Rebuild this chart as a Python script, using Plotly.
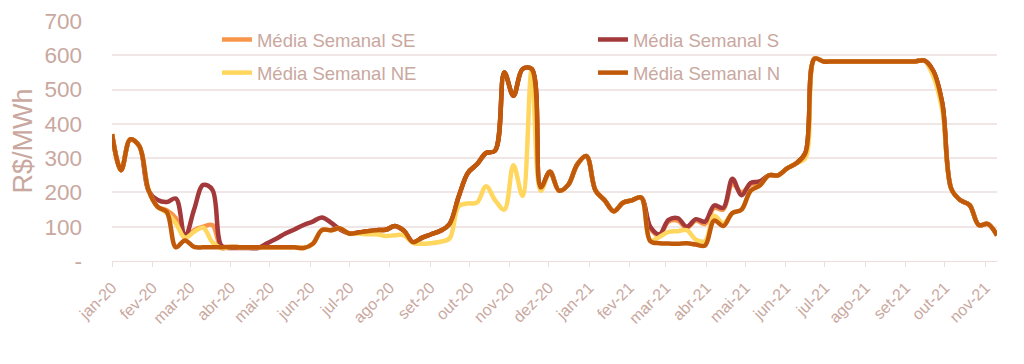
import pandas as pd
import plotly.graph_objects as go

# Weekly dates (categories on the x axis)
weeks = pd.date_range("2020-01-01", periods=98, freq="7D")

# Month tick labels
month_ticks = pd.date_range("2020-01-01", "2021-11-01", freq="MS")
month_labels = ["jan-20", "fev-20", "mar-20", "abr-20", "mai-20", "jun-20", "jul-20",
                "ago-20", "set-20", "out-20", "nov-20", "dez-20",
                "jan-21", "fev-21", "mar-21", "abr-21", "mai-21", "jun-21", "jul-21",
                "ago-21", "set-21", "out-21", "nov-21"]

y_ticks = [0, 100, 200, 300, 400, 500, 600, 700]
y_labels = ["-", "100", "200", "300", "400", "500", "600", "700"]

# Média Semanal N
n_vals = [370, 265, 355, 335, 207, 158, 143, 40, 60, 41,
          40, 40, 40, 41, 40, 40, 40, 40, 40, 40,
          40, 38, 50, 90, 90, 95, 80, 83, 87, 90,
          91, 102, 88, 55, 68, 78, 88, 108, 188, 257,
          282, 315, 322, 550, 482, 560, 560, 215, 260, 205,
          222, 282, 306, 205, 177, 145, 170, 177, 185, 58,
          52, 51, 50, 52, 48, 45, 118, 102, 140, 150,
          205, 220, 250, 250, 270, 285, 315, 590, 582, 582,
          582, 582, 582, 582, 582, 582, 582, 582, 582, 585,
          555, 460, 210, 177, 163, 105, 108, 75]

# Média Semanal S
s_vals = [370, 265, 355, 335, 205, 178, 172, 182, 69, 150,
          222, 208, 44, 38, 38, 38, 38, 52, 65, 80,
          92, 105, 115, 127, 112, 92, 81, 83, 87, 90,
          91, 102, 88, 55, 68, 78, 88, 108, 188, 257,
          282, 315, 322, 550, 482, 560, 560, 215, 260, 205,
          222, 282, 306, 205, 177, 145, 170, 177, 185, 100,
          78, 120, 125, 100, 122, 115, 162, 155, 240, 192,
          228, 232, 250, 250, 270, 285, 315, 590, 582, 582,
          582, 582, 582, 582, 582, 582, 582, 582, 582, 585,
          555, 460, 210, 177, 163, 105, 108, 75]

# Média Semanal SE
se_vals = [370, 265, 355, 335, 207, 158, 148, 125, 68, 90,
           100, 105, 38, 41, 40, 40, 40, 40, 40, 40,
           40, 38, 50, 90, 90, 95, 80, 83, 87, 90,
           91, 102, 88, 55, 68, 78, 88, 108, 188, 257,
           282, 315, 322, 550, 482, 560, 560, 215, 260, 205,
           222, 282, 306, 205, 177, 145, 170, 177, 185, 95,
           75, 115, 118, 97, 118, 108, 155, 150, 225, 200,
           222, 230, 250, 250, 270, 285, 315, 590, 582, 582,
           582, 582, 582, 582, 582, 582, 582, 582, 582, 585,
           555, 460, 210, 177, 163, 105, 108, 75]

# Média Semanal NE
ne_vals = [370, 265, 355, 335, 207, 158, 140, 110, 68, 85,
           97, 55, 38, 41, 40, 40, 40, 40, 40, 40,
           40, 38, 50, 90, 90, 95, 80, 80, 78, 78,
           73, 75, 75, 53, 50, 52, 56, 66, 160, 168,
           170, 218, 177, 150, 279, 190, 560, 205, 260, 205,
           222, 282, 306, 205, 177, 145, 170, 177, 185, 60,
           70, 85, 87, 90, 62, 58, 132, 110, 140, 150,
           205, 220, 250, 250, 270, 285, 300, 590, 582, 582,
           582, 582, 582, 582, 582, 582, 582, 582, 582, 585,
           540, 440, 210, 177, 163, 105, 108, 75]

FONT = "Liberation Sans, Arial, Helvetica, sans-serif"
TXT = "#c9a8a0"
GRID = "#f1e6e6"

fig = go.Figure()
series = [
    ("Média Semanal SE", se_vals, "#f7964a", "legend"),
    ("Média Semanal S", s_vals, "#a3393a", "legend"),
    ("Média Semanal NE", ne_vals, "#ffd65e", "legend2"),
    ("Média Semanal N", n_vals, "#c05a0a", "legend2"),
]
for name, vals, color, lg in series:
    fig.add_trace(go.Scatter(
        x=weeks, y=vals, name=name, mode="lines",
        line=dict(color=color, width=4.5, shape="spline"),
        legend=lg,
    ))

legend_common = dict(
    orientation="h", xanchor="left", yanchor="middle",
    bgcolor="rgba(0,0,0,0)", entrywidth=331, entrywidthmode="pixels",
    font=dict(family=FONT, size=18.5, color=TXT),
    itemclick=False, itemdoubleclick=False,
)

# page body has an 8px margin, so the figure is 8px smaller and margins shifted
fig.update_layout(
    width=1016, height=356,
    margin=dict(l=104, r=27, t=13, b=103, autoexpand=False),
    paper_bgcolor="white", plot_bgcolor="white",
    font=dict(family=FONT, color=TXT),
    legend=dict(x=0.1186, y=0.921, **legend_common),
    legend2=dict(x=0.1186, y=0.783, **legend_common),
    xaxis=dict(
        range=["2020-01-01", "2021-11-10"],
        tickvals=month_ticks, ticktext=month_labels,
        tickangle=-45, tickfont=dict(family=FONT, size=16, color=TXT),
        showgrid=False, showline=True, linecolor="#ecdcdc", linewidth=1,
        ticks="outside", ticklen=5, tickcolor="#ecdcdc",
        zeroline=False, automargin=False, ticklabelstandoff=5,
    ),
    yaxis=dict(
        range=[0, 700], tickvals=y_ticks, ticktext=y_labels,
        tickfont=dict(family=FONT, size=22.5, color=TXT),
        showgrid=True, gridcolor=GRID, gridwidth=1.5,
        zeroline=False, showline=False, ticks="",
        ticklabelstandoff=29, automargin=False,
        title=dict(text="R$/MWh", font=dict(family=FONT, size=27, color=TXT), standoff=13),
    ),
    showlegend=True,
)

fig.write_html("out.html")
